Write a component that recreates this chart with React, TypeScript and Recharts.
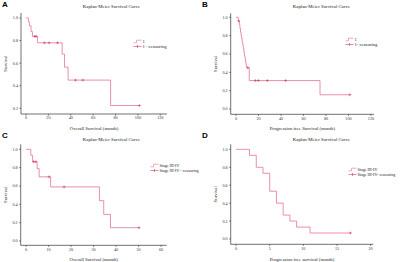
import React from "react";
import { ComposedChart, Line, Scatter, XAxis, YAxis, Legend, Label } from "recharts";

// Panel A - overall survival, group "1"
const aTimes = [0, 2.1, 3.0, 4.5, 5.7, 10.2, 32.3, 34.4, 37.6, 75.6, 101.4];
const aSurv = [1.0, 0.967, 0.93, 0.88, 0.837, 0.78, 0.68, 0.565, 0.45, 0.225, 0.225];
const aCensorT = [7.8, 9.0, 16.4, 20.6, 28.1, 44.2, 50.8, 101.4];
const aCensorS = [0.837, 0.837, 0.78, 0.78, 0.78, 0.45, 0.45, 0.225];

// Panel B - progression free survival, group "1"
const bTimes = [0, 2.0, 3.0, 3.5, 4.0, 4.5, 5.0, 5.5, 6.0, 6.5, 7.0, 7.5, 8.0, 8.5, 9.0, 9.5, 11.8, 74.7, 101.3];
const bSurv = [1.0, 0.96, 0.92, 0.88, 0.84, 0.8, 0.77, 0.73, 0.7, 0.66, 0.62, 0.58, 0.55, 0.51, 0.48, 0.45, 0.31, 0.155, 0.155];
const bCensorT = [2.5, 10.5, 17.2, 19.9, 27.9, 44.1, 101.3];
const bCensorS = [0.96, 0.45, 0.31, 0.31, 0.31, 0.31, 0.155];

// Panel C - overall survival, Stage III-IV
const cTimes = [0, 2.1, 2.9, 4.9, 5.8, 10.9, 32.6, 34.5, 37.5, 50.2];
const cSurv = [1.0, 0.935, 0.865, 0.79, 0.7, 0.59, 0.44, 0.29, 0.145, 0.145];
const cCensorT = [3.3, 4.3, 10.2, 16.9, 50.2];
const cCensorS = [0.865, 0.865, 0.7, 0.59, 0.145];

// Panel D - progression free survival, Stage III-IV
const dTimes = [0, 2, 3, 4, 5, 6, 7, 8, 9, 11, 17];
const dSurv = [1.0, 0.933, 0.8, 0.733, 0.533, 0.4, 0.267, 0.2, 0.133, 0.067, 0.067];
const dCensorT = [17];
const dCensorS = [0.067];

const yTicksA = [0.2, 0.4, 0.6, 0.8, 1.0];
const yTicks = [0, 0.2, 0.4, 0.6, 0.8, 1.0];
const xTicksLong = [0, 20, 40, 60, 80, 100, 120];
const xTicksC = [0, 10, 20, 30, 40, 50, 60];
const xTicksD = [0, 5, 10, 15, 20];

const LINE = "#e5738f";
const MARK = "#cc3a64";
const AXIS = "#333";
const SERIF = "'Liberation Serif', 'DejaVu Serif', serif";

const pairs = (t: number[], s: number[]) => t.map((v, i) => ({ t: v, s: s[i] }));

const Plus = (p: any) => (
  <path
    d={`M${p.cx - 1.4},${p.cy}h2.8M${p.cx},${p.cy - 1.4}v2.8`}
    stroke={MARK}
    strokeWidth={0.6}
    fill="none"
  />
);

function legendContent(name: string, censorName: string, fontSize: number) {
  return () => (
    <div style={{ fontFamily: SERIF, fontSize, color: "#222", lineHeight: "5px" }}>
      <div style={{ display: "flex", alignItems: "center", whiteSpace: "nowrap" }}>
        <svg width={9} height={5} style={{ marginRight: 0.5 }}>
          <path d="M0.5,3.8h3V1.2h5" stroke={LINE} strokeWidth={0.6} fill="none" />
        </svg>
        {name}
      </div>
      <div style={{ display: "flex", alignItems: "center", whiteSpace: "nowrap" }}>
        <svg width={9} height={5} style={{ marginRight: 0.5 }}>
          <path d="M0.5,2.5h8M4.5,1v3" stroke={MARK} strokeWidth={0.6} fill="none" />
        </svg>
        {censorName}
      </div>
    </div>
  );
}

type PanelProps = {
  letter: string;
  left: number;
  top: number;
  times: number[];
  surv: number[];
  censorT: number[];
  censorS: number[];
  xDomain: [number, number];
  yDomain: [number, number];
  xTicks: number[];
  yTickList: number[];
  xLabel: string;
  margin: { top: number; right: number };
  yWidth: number;
  xHeight: number;
  yLabelX: number;
  titleX: number;
  titleY: number;
  legendX: number;
  legendY: number;
  legendFont: number;
  name: string;
  censorName: string;
};

function Panel(p: PanelProps) {
  const steps = pairs(p.times, p.surv);
  const censor = pairs(p.censorT, p.censorS);
  const tickStyle = { fontFamily: SERIF, fontSize: 4.2, fill: "#333" };
  return (
    <div style={{ position: "absolute", left: p.left, top: p.top, width: 200, height: 131, overflow: "hidden" }}>
      <div
        style={{
          position: "absolute",
          left: 2,
          top: 0,
          fontFamily: "'Liberation Sans', Arial, sans-serif",
          fontWeight: 700,
          fontSize: 8,
          lineHeight: "10px",
        }}
      >
        {p.letter}
      </div>
      <div
        style={{
          position: "absolute",
          left: p.titleX,
          top: p.titleY - 3,
          transform: "translateX(-50%)",
          whiteSpace: "nowrap",
          fontFamily: SERIF,
          fontSize: 4.8,
          lineHeight: "6px",
          color: "#222",
        }}
      >
        Kaplan-Meier Survival Curve
      </div>
      <ComposedChart width={200} height={131} margin={{ top: p.margin.top, right: p.margin.right, bottom: 0, left: 0 }}>
        <XAxis
          type="number"
          dataKey="t"
          domain={p.xDomain}
          ticks={p.xTicks}
          allowDataOverflow
          height={p.xHeight}
          stroke={AXIS}
          strokeWidth={0.7}
          tickSize={1.5}
          tickMargin={1}
          tick={tickStyle}
          interval={0}
        >
          <Label
            value={p.xLabel}
            position="insideBottom"
            offset={1.5}
            style={{ fontFamily: SERIF, fontSize: 4.8, fill: "#222" }}
          />
        </XAxis>
        <YAxis
          type="number"
          domain={p.yDomain}
          ticks={p.yTickList}
          allowDataOverflow
          width={p.yWidth}
          stroke={AXIS}
          strokeWidth={0.7}
          tickSize={1.5}
          tickMargin={1.5}
          tick={tickStyle}
          interval={0}
          tickFormatter={(v: number) => v.toFixed(1)}
        >
          <Label
            value="Survival"
            angle={-90}
            position="insideLeft"
            offset={p.yLabelX}
            style={{ fontFamily: SERIF, fontSize: 4.8, fill: "#222", textAnchor: "middle" }}
          />
        </YAxis>
        <Legend
          layout="vertical"
          align="center"
          verticalAlign="middle"
          wrapperStyle={{ left: p.legendX, top: p.legendY, width: 55 }}
          content={legendContent(p.name, p.censorName, p.legendFont)}
        />
        <Line
          data={steps}
          dataKey="s"
          type="stepAfter"
          stroke={LINE}
          strokeWidth={0.8}
          dot={false}
          isAnimationActive={false}
          name={p.name}
        />
        <Scatter data={censor} dataKey="s" shape={Plus} isAnimationActive={false} name={p.censorName} />
      </ComposedChart>
    </div>
  );
}

export default function App() {
  return (
    <div style={{ position: "absolute", left: 0, top: 0, width: 400, height: 262, background: "#fff", overflow: "hidden" }}>
      <Panel
        letter="A"
        left={0}
        top={0}
        times={aTimes}
        surv={aSurv}
        censorT={aCensorT}
        censorS={aCensorS}
        xDomain={[-4.5, 126]}
        yDomain={[0.15, 1.044]}
        xTicks={xTicksLong}
        yTickList={yTicksA}
        xLabel="Overall Survival (month)"
        margin={{ top: 13, right: 33 }}
        yWidth={21}
        xHeight={17}
        yLabelX={5}
        titleX={111.5}
        titleY={7.3}
        legendX={133}
        legendY={38.5}
        legendFont={4.6}
        name="1"
        censorName="1 - censoring"
      />
      <Panel
        letter="B"
        left={200}
        top={0}
        times={bTimes}
        surv={bSurv}
        censorT={bCensorT}
        censorS={bCensorS}
        xDomain={[-4.7, 122.7]}
        yDomain={[-0.058, 1.044]}
        xTicks={xTicksLong}
        yTickList={yTicks}
        xLabel="Progression free Survival (month)"
        margin={{ top: 13.3, right: 26 }}
        yWidth={30.7}
        xHeight={16.7}
        yLabelX={15}
        titleX={121.5}
        titleY={7.3}
        legendX={145}
        legendY={36.5}
        legendFont={4.6}
        name="1"
        censorName="1- censoring"
      />
      <Panel
        letter="C"
        left={0}
        top={131}
        times={cTimes}
        surv={cSurv}
        censorT={cCensorT}
        censorS={cCensorS}
        xDomain={[-2.4, 62.5]}
        yDomain={[-0.047, 1.055]}
        xTicks={xTicksC}
        yTickList={yTicks}
        xLabel="Overall Survival (month)"
        margin={{ top: 13.3, right: 33.3 }}
        yWidth={20.7}
        xHeight={16.7}
        yLabelX={5}
        titleX={111.5}
        titleY={9.3}
        legendX={150}
        legendY={32}
        legendFont={4.1}
        name="Stage III-IV"
        censorName="Stage III-IV - censoring"
      />
      <Panel
        letter="D"
        left={200}
        top={131}
        times={dTimes}
        surv={dSurv}
        censorT={dCensorT}
        censorS={dCensorS}
        xDomain={[-0.8, 20.4]}
        yDomain={[-0.059, 1.056]}
        xTicks={xTicksD}
        yTickList={yTicks}
        xLabel="Progression free survival (month)"
        margin={{ top: 13.3, right: 26.7 }}
        yWidth={30.7}
        xHeight={17.7}
        yLabelX={15}
        titleX={121.5}
        titleY={9.3}
        legendX={148}
        legendY={35.5}
        legendFont={4.1}
        name="Stage III-IV"
        censorName="Stage III-IV- censoring"
      />
    </div>
  );
}
